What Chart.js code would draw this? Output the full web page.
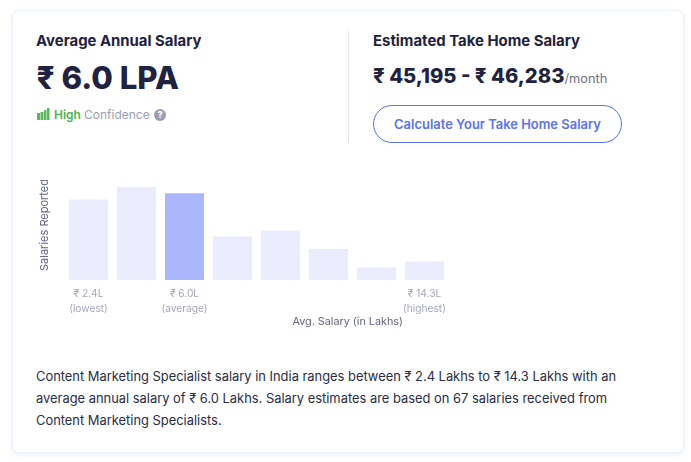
<!DOCTYPE html>
<html><head><meta charset="utf-8">
<script src="https://cdn.jsdelivr.net/npm/chart.js@4/dist/chart.umd.js"></script>
<style>
html,body{margin:0;padding:0;background:#fff;width:691px;height:462px;overflow:hidden;font-family:Inter,"Noto Sans",sans-serif;}
.card{position:absolute;left:12px;top:10px;width:670px;height:441px;border:1px solid #edf2fb;border-radius:7px;box-shadow:0 2px 4px rgba(215,225,245,.55);background:#fff;}
.t{position:absolute;white-space:nowrap;line-height:20px;height:20px;}
.divider{position:absolute;left:348px;top:31px;width:1px;height:112px;background:#e4e6ee;}
.btn{position:absolute;left:373px;top:105px;width:247px;height:36px;border:1px solid #5a73ee;border-radius:19px;color:#5a73ee;font-weight:600;font-size:12.95px;line-height:36px;text-align:center;}
#wrap{position:absolute;left:30px;top:165px;width:430px;height:165px;}
</style></head><body>
<div class="card"></div>
<div class="t" style="left:36px;top:31px;font-size:14.9px;font-weight:700;color:#1f2340">Average Annual Salary</div>
<div class="t" style="left:36.5px;top:68px;font-size:31.2px;font-weight:800;color:#1f2340">₹ 6.0 LPA</div>
<svg style="position:absolute;left:37px;top:108px" width="13" height="13" viewBox="0 0 13 13"><path fill="#5cb85c" d="M0 5h3v7H0zM3.500 4h3v8h-3zM7 2h2.500v10H7zM10 0h2.500v12H10z"/></svg>
<div class="t" style="left:54px;top:105px;font-size:12px;font-weight:600;color:#4fb151">High</div>
<div class="t" style="left:84px;top:105px;font-size:12px;color:#9a9db5">Confidence</div>
<div class="t" style="left:154px;top:106px;width:12px;height:12px;line-height:12px;margin-top:3px;border-radius:50%;background:#9a9db5;color:#fff;font-size:9px;font-weight:800;text-align:center">?</div>
<div class="divider"></div>
<div class="t" style="left:373px;top:31px;font-size:14.9px;font-weight:700;color:#1f2340">Estimated Take Home Salary</div>
<div class="t" style="left:373px;top:66px;font-size:20.2px;font-weight:800;color:#1f2340">₹ 45,195 - ₹ 46,283<span style="font-size:12.8px;font-weight:400;color:#6d7085">/month</span></div>
<div class="btn">Calculate Your Take Home Salary</div>
<div id="wrap"><canvas id="c"></canvas></div>
<div class="t" style="left:36px;top:366.5px;font-size:12.9px;color:#2a2d45">Content Marketing Specialist salary in India ranges between ₹ 2.4 Lakhs to ₹ 14.3 Lakhs with an</div>
<div class="t" style="left:36px;top:388.5px;font-size:12.9px;color:#2a2d45">average annual salary of ₹ 6.0 Lakhs. Salary estimates are based on 67 salaries received from</div>
<div class="t" style="left:36px;top:410.5px;font-size:12.9px;color:#2a2d45">Content Marketing Specialists.</div>
<script>
const categories = [["₹ 2.4L","(lowest)"],"",["₹ 6.0L","(average)"],"","","","",["₹ 14.3L","(highest)"]];
const salariesReported = [13,15,14,7,8,5,2,3];
const averageIndex = 2;
const yMax = 17.74;
const lightBar = "#eaecfd", averageBar = "#aab8fb";
const fontFamily = 'Inter,"Noto Sans",sans-serif';
Chart.defaults.animation = false;
new Chart(document.getElementById("c"),{
  type:"bar",
  data:{labels:categories,datasets:[{
    data:salariesReported,
    backgroundColor:salariesReported.map((v,i)=>i===averageIndex?averageBar:lightBar),
    hoverBackgroundColor:salariesReported.map((v,i)=>i===averageIndex?averageBar:lightBar),
    barPercentage:39/48,categoryPercentage:1,borderWidth:0
  }]},
  options:{
    responsive:true,maintainAspectRatio:false,
    layout:{padding:{top:5,right:11.5,bottom:0,left:0}},
    plugins:{legend:{display:false},tooltip:{enabled:false}},
    scales:{
      x:{
        grid:{display:false},border:{display:false},
        ticks:{autoSkip:false,maxRotation:0,minRotation:0,padding:-1,color:"#a3a6bb",font:{family:fontFamily,size:10.2,lineHeight:1.45}},
        title:{display:true,align:"end",text:"Avg. Salary (in Lakhs)"+"\u00a0".repeat(15),color:"#62657f",font:{family:fontFamily,size:10.8},padding:{top:-3,bottom:2}},
        afterFit(s){s.height=50;}
      },
      y:{
        min:0,max:yMax,
        grid:{display:false},border:{display:false},
        ticks:{display:false},
        title:{display:true,text:"Salaries Reported",color:"#62657f",font:{family:fontFamily,size:11},padding:{top:8,bottom:0}},
        afterFit(s){s.width=34.5;}
      }
    }
  }
});
</script>
</body></html>
